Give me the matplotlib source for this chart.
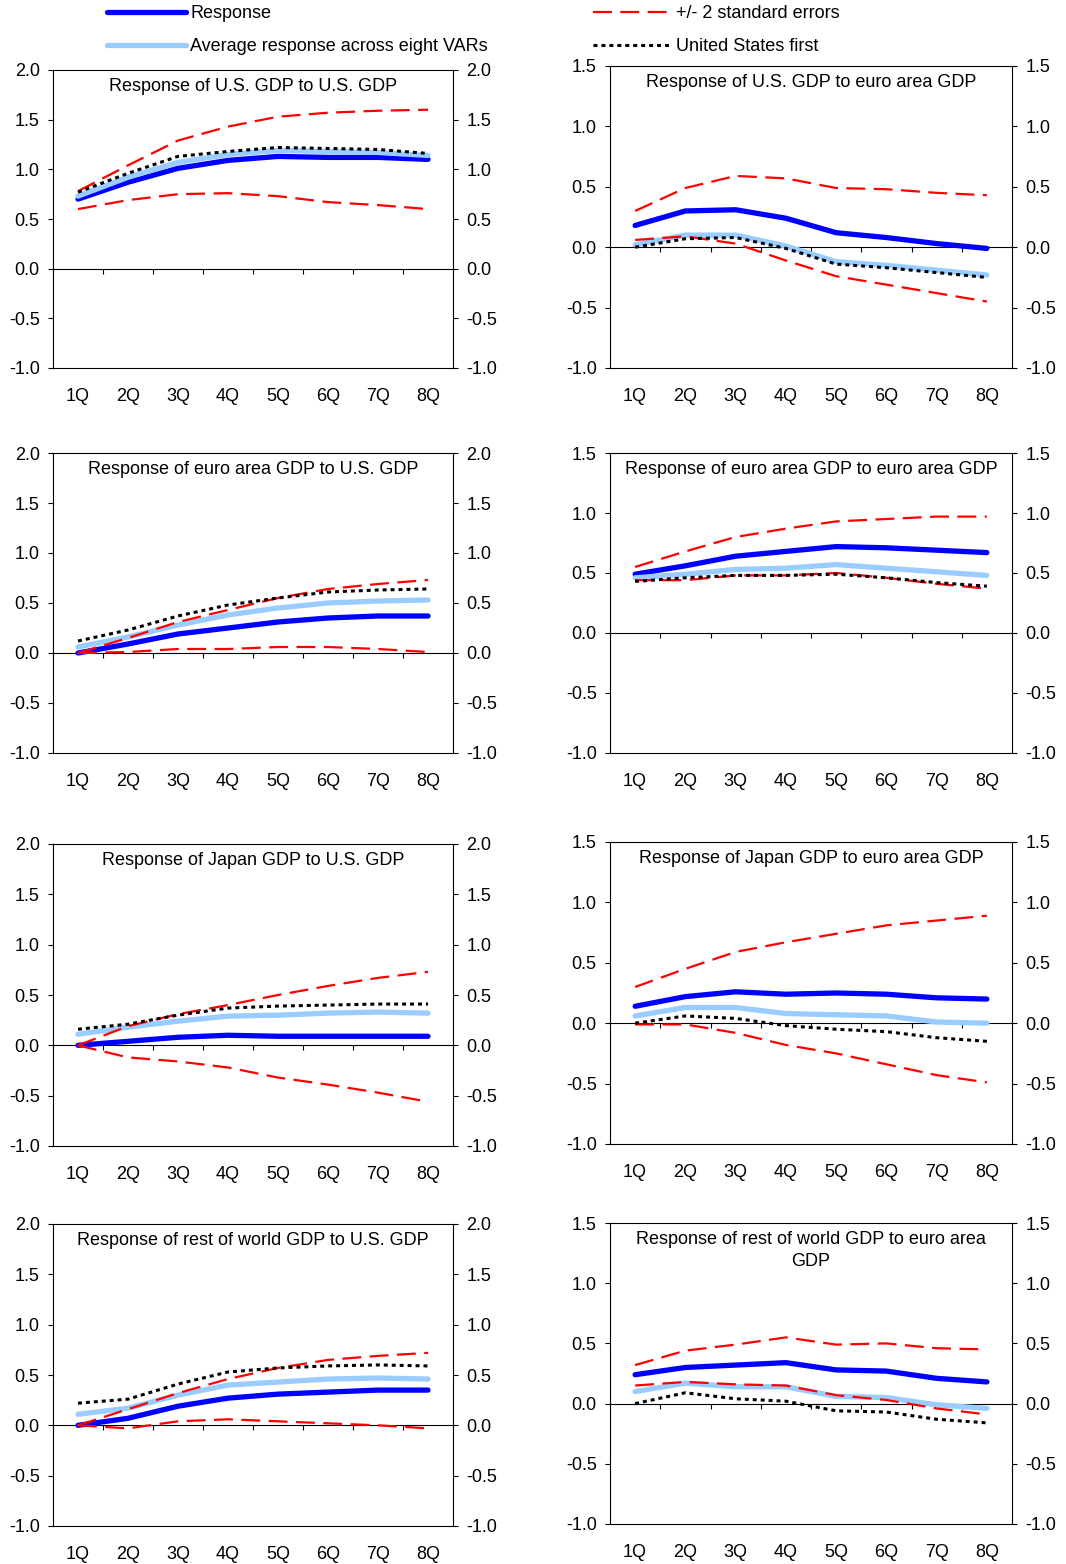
import matplotlib
matplotlib.use('Agg')
import matplotlib.pyplot as plt
from matplotlib.ticker import FormatStrFormatter

plt.rcParams['font.family'] = ['Liberation Sans', 'DejaVu Sans']
plt.rcParams['font.size'] = 13

quarters = ['1Q', '2Q', '3Q', '4Q', '5Q', '6Q', '7Q', '8Q']

titles = [
    'Response of U.S. GDP to U.S. GDP',
    'Response of U.S. GDP to euro area GDP',
    'Response of euro area GDP to U.S. GDP',
    'Response of euro area GDP to euro area GDP',
    'Response of Japan GDP to U.S. GDP',
    'Response of Japan GDP to euro area GDP',
    'Response of rest of world GDP to U.S. GDP',
    'Response of rest of world GDP to euro area\nGDP',
]

# one row per panel, same order as titles
response = [
    [0.70, 0.87, 1.01, 1.09, 1.13, 1.12, 1.12, 1.10],
    [0.18, 0.30, 0.31, 0.24, 0.12, 0.08, 0.03, -0.01],
    [0.00, 0.09, 0.19, 0.25, 0.31, 0.35, 0.37, 0.37],
    [0.49, 0.56, 0.64, 0.68, 0.72, 0.71, 0.69, 0.67],
    [0.00, 0.04, 0.08, 0.10, 0.09, 0.09, 0.09, 0.09],
    [0.14, 0.22, 0.26, 0.24, 0.25, 0.24, 0.21, 0.20],
    [0.00, 0.07, 0.19, 0.27, 0.31, 0.33, 0.35, 0.35],
    [0.24, 0.30, 0.32, 0.34, 0.28, 0.27, 0.21, 0.18],
]
average = [
    [0.73, 0.92, 1.07, 1.15, 1.19, 1.18, 1.17, 1.14],
    [0.02, 0.10, 0.10, 0.01, -0.12, -0.15, -0.19, -0.23],
    [0.06, 0.16, 0.28, 0.38, 0.45, 0.50, 0.52, 0.53],
    [0.46, 0.49, 0.53, 0.54, 0.57, 0.54, 0.51, 0.48],
    [0.11, 0.18, 0.24, 0.29, 0.30, 0.32, 0.33, 0.32],
    [0.06, 0.13, 0.13, 0.08, 0.07, 0.06, 0.01, 0.00],
    [0.11, 0.17, 0.30, 0.40, 0.43, 0.46, 0.47, 0.46],
    [0.10, 0.17, 0.14, 0.14, 0.06, 0.05, -0.01, -0.04],
]
upper = [
    [0.78, 1.04, 1.29, 1.43, 1.53, 1.57, 1.59, 1.60],
    [0.30, 0.49, 0.59, 0.57, 0.49, 0.48, 0.45, 0.43],
    [0.00, 0.15, 0.31, 0.43, 0.55, 0.64, 0.69, 0.73],
    [0.55, 0.68, 0.80, 0.87, 0.93, 0.95, 0.97, 0.97],
    [0.00, 0.19, 0.31, 0.40, 0.50, 0.59, 0.67, 0.73],
    [0.30, 0.45, 0.59, 0.67, 0.74, 0.81, 0.85, 0.89],
    [0.00, 0.16, 0.32, 0.46, 0.57, 0.65, 0.69, 0.72],
    [0.32, 0.44, 0.49, 0.55, 0.49, 0.50, 0.46, 0.45],
]
lower = [
    [0.60, 0.69, 0.75, 0.76, 0.73, 0.67, 0.64, 0.60],
    [0.06, 0.09, 0.03, -0.11, -0.24, -0.31, -0.38, -0.45],
    [0.00, 0.01, 0.04, 0.04, 0.06, 0.06, 0.04, 0.01],
    [0.44, 0.44, 0.48, 0.48, 0.50, 0.46, 0.41, 0.37],
    [0.00, -0.12, -0.16, -0.22, -0.32, -0.39, -0.47, -0.56],
    [-0.01, -0.01, -0.08, -0.18, -0.25, -0.34, -0.43, -0.49],
    [0.00, -0.03, 0.04, 0.06, 0.04, 0.02, 0.00, -0.03],
    [0.15, 0.18, 0.16, 0.15, 0.07, 0.03, -0.04, -0.09],
]
us_first = [
    [0.77, 0.96, 1.13, 1.18, 1.22, 1.21, 1.20, 1.16],
    [0.00, 0.07, 0.08, -0.01, -0.14, -0.17, -0.21, -0.25],
    [0.12, 0.23, 0.37, 0.48, 0.55, 0.61, 0.63, 0.64],
    [0.43, 0.46, 0.48, 0.48, 0.49, 0.46, 0.42, 0.39],
    [0.16, 0.21, 0.30, 0.37, 0.39, 0.40, 0.41, 0.41],
    [0.00, 0.06, 0.04, -0.02, -0.05, -0.07, -0.12, -0.15],
    [0.22, 0.26, 0.41, 0.53, 0.57, 0.59, 0.60, 0.59],
    [0.00, 0.09, 0.04, 0.02, -0.06, -0.07, -0.13, -0.16],
]

W, H = 1066, 1564
fig = plt.figure(figsize=(W / 100, H / 100), dpi=100)

# frame boxes in pixels: (left, top, right, bottom)
boxes = [
    (53, 70, 453, 368), (610, 66, 1012, 368),
    (53, 453, 453, 753), (610, 453, 1012, 753),
    (53, 844, 453, 1146), (610, 842, 1012, 1144),
    (53, 1224, 453, 1526), (610, 1223, 1012, 1524),
]

x = list(range(1, 9))
red_ls = (0, (8.5, 3.8))
handles = None
for i, (l, t, r, b) in enumerate(boxes):
    ax = fig.add_axes([l / W, 1 - b / H, (r - l) / W, (b - t) / H])
    ymax = 2.0 if i % 2 == 0 else 1.5
    ax.set_ylim(-1.0, ymax)
    ax.set_xlim(0.5, 8.5)

    h1, = ax.plot(x, response[i], color='#0000FF', lw=3.8, solid_capstyle='round', zorder=3)
    h2, = ax.plot(x, average[i], color='#99CCFF', lw=3.8, solid_capstyle='round', zorder=4)
    h3, = ax.plot(x, upper[i], color='#FF0000', lw=1.6, ls=red_ls, zorder=5)
    ax.plot(x, lower[i], color='#FF0000', lw=1.6, ls=red_ls, zorder=5)
    h4, = ax.plot(x, us_first[i], color='black', lw=2.2, ls=(0, (1.3, 1.3)), zorder=6)
    if handles is None:
        handles = [h1, h2, h3, h4]

    yt = [-1.0 + 0.5 * k for k in range(int((ymax + 1.0) / 0.5) + 1)]
    ax.set_yticks(yt)
    ax.yaxis.set_major_formatter(FormatStrFormatter('%.1f'))
    ax.tick_params(axis='y', direction='out', length=3.6, width=0.8, pad=6,
                   left=True, right=True, labelleft=True, labelright=True)

    ax.set_xticks(x)
    ax.set_xticklabels(quarters)
    ax.tick_params(axis='x', length=0, pad=14.5)

    for s in ax.spines.values():
        s.set_linewidth(0.8)

    # zero line with category separators
    zero = ax.secondary_xaxis((0 - (-1.0)) / (ymax + 1.0))
    zero.set_xticks([1.5, 2.5, 3.5, 4.5, 5.5, 6.5, 7.5])
    zero.set_xticklabels([])
    zero.tick_params(direction='out', length=3.6, width=0.8)
    zero.spines['bottom'].set_linewidth(0.8)

    ax.annotate(titles[i], xy=(0.5, 1), xycoords='axes fraction', xytext=(0, -5.5),
                textcoords='offset points', ha='center', va='top', linespacing=1.45)

fig.legend(handles[:2], ['Response', 'Average response across eight VARs'],
           loc='upper left', bbox_to_anchor=(107 / W, 1 - 5 / H),
           frameon=False, borderpad=0, borderaxespad=0,
           handlelength=4.4, handletextpad=0.2, labelspacing=0.9)
fig.legend(handles[2:], ['+/- 2 standard errors', 'United States first'],
           loc='upper left', bbox_to_anchor=(593 / W, 1 - 5 / H),
           frameon=False, borderpad=0, borderaxespad=0,
           handlelength=4.2, handletextpad=0.4, labelspacing=0.9)

fig.savefig('out.png', dpi=100)
